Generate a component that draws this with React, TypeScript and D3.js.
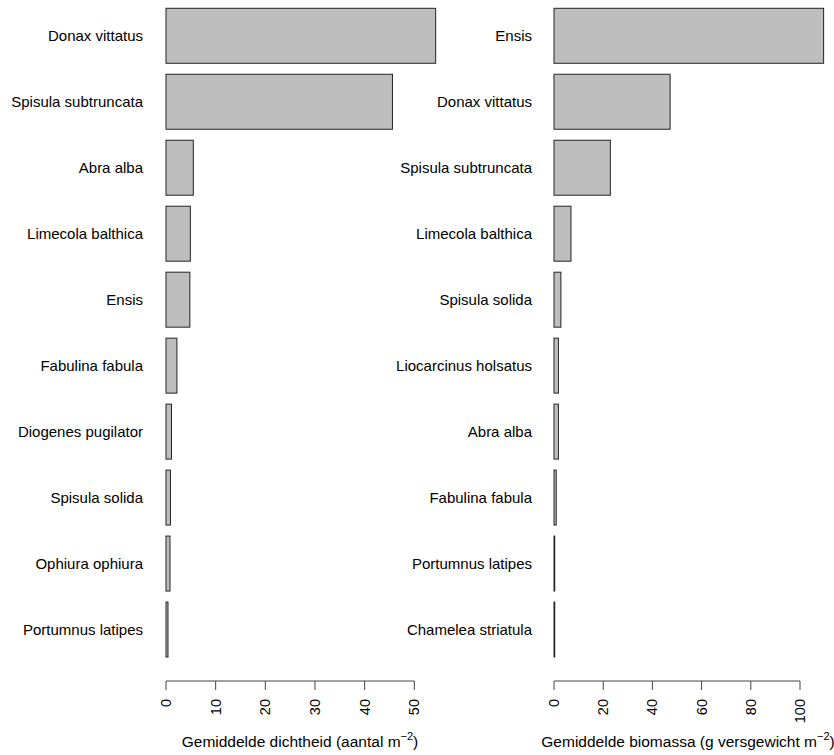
import React from "react";
import * as d3 from "d3";

const densitySpecies = [
  "Donax vittatus",
  "Spisula subtruncata",
  "Abra alba",
  "Limecola balthica",
  "Ensis",
  "Fabulina fabula",
  "Diogenes pugilator",
  "Spisula solida",
  "Ophiura ophiura",
  "Portumnus latipes",
];
const densityValues = [54.3, 45.6, 5.5, 4.9, 4.8, 2.2, 1.1, 0.9, 0.8, 0.4];
const densityTicks = [0, 10, 20, 30, 40, 50];

const biomassSpecies = [
  "Ensis",
  "Donax vittatus",
  "Spisula subtruncata",
  "Limecola balthica",
  "Spisula solida",
  "Liocarcinus holsatus",
  "Abra alba",
  "Fabulina fabula",
  "Portumnus latipes",
  "Chamelea striatula",
];
const biomassValues = [109.6, 47.2, 22.9, 6.9, 2.8, 1.8, 1.8, 0.9, 0.3, 0.3];
const biomassTicks = [0, 20, 40, 60, 80, 100];

const FONT = "'Liberation Sans', Arial, Helvetica, sans-serif";

type PanelProps = {
  species: string[];
  values: number[];
  ticks: number[];
  x0: number;
  xTickMaxPx: number;
  labelRight: number;
  titleMain: string;
  titleCenter: number;
};

function Panel(p: PanelProps) {
  const x = d3
    .scaleLinear()
    .domain([0, p.ticks[p.ticks.length - 1]])
    .range([p.x0, p.xTickMaxPx]);
  const y = d3
    .scaleBand<string>()
    .domain(p.species)
    .range([8.3, 657])
    .paddingInner(0.2 / 1.2)
    .paddingOuter(0);
  const axisY = 681;
  return (
    <g>
      {p.species.map((s, i) => (
        <g key={s}>
          <rect
            x={x(0)}
            y={y(s)!}
            width={Math.max(0, x(p.values[i]) - x(0))}
            height={y.bandwidth()}
            fill="#BEBEBE"
            stroke="#222"
            strokeWidth={1}
          />
          <text
            x={p.labelRight}
            y={y(s)! + y.bandwidth() / 2}
            dy="0.35em"
            textAnchor="end"
            fontSize={15}
            fontFamily={FONT}
            fill="#000"
          >
            {s}
          </text>
        </g>
      ))}
      <line
        x1={x(p.ticks[0])}
        x2={x(p.ticks[p.ticks.length - 1])}
        y1={axisY}
        y2={axisY}
        stroke="#444"
        strokeWidth={1}
      />
      {p.ticks.map((t) => (
        <g key={t}>
          <line x1={x(t)} x2={x(t)} y1={axisY} y2={axisY + 9} stroke="#444" strokeWidth={1} />
          <text
            transform={`translate(${x(t)},${699}) rotate(-90)`}
            textAnchor="end"
            dy="0.35em"
            fontSize={14.5}
            fontFamily={FONT}
            fill="#000"
          >
            {t}
          </text>
        </g>
      ))}
      <text
        x={p.titleCenter}
        y={747}
        textAnchor="middle"
        fontSize={15.5}
        fontFamily={FONT}
        fill="#000"
      >
        {p.titleMain}
        <tspan fontSize={11} dy={-7}>
          −2
        </tspan>
        <tspan dy={7}>)</tspan>
      </text>
    </g>
  );
}

export default function App() {
  return (
    <svg width={834} height={755} style={{ display: "block", position: "absolute", left: 0, top: 0 }}>
      <rect width={834} height={755} fill="#fff" />
      <Panel
        species={densitySpecies}
        values={densityValues}
        ticks={densityTicks}
        x0={166}
        xTickMaxPx={414.3}
        labelRight={143}
        titleMain="Gemiddelde dichtheid (aantal m"
        titleCenter={300}
      />
      <Panel
        species={biomassSpecies}
        values={biomassValues}
        ticks={biomassTicks}
        x0={554}
        xTickMaxPx={800}
        labelRight={532}
        titleMain="Gemiddelde biomassa (g versgewicht m"
        titleCenter={688}
      />
    </svg>
  );
}
